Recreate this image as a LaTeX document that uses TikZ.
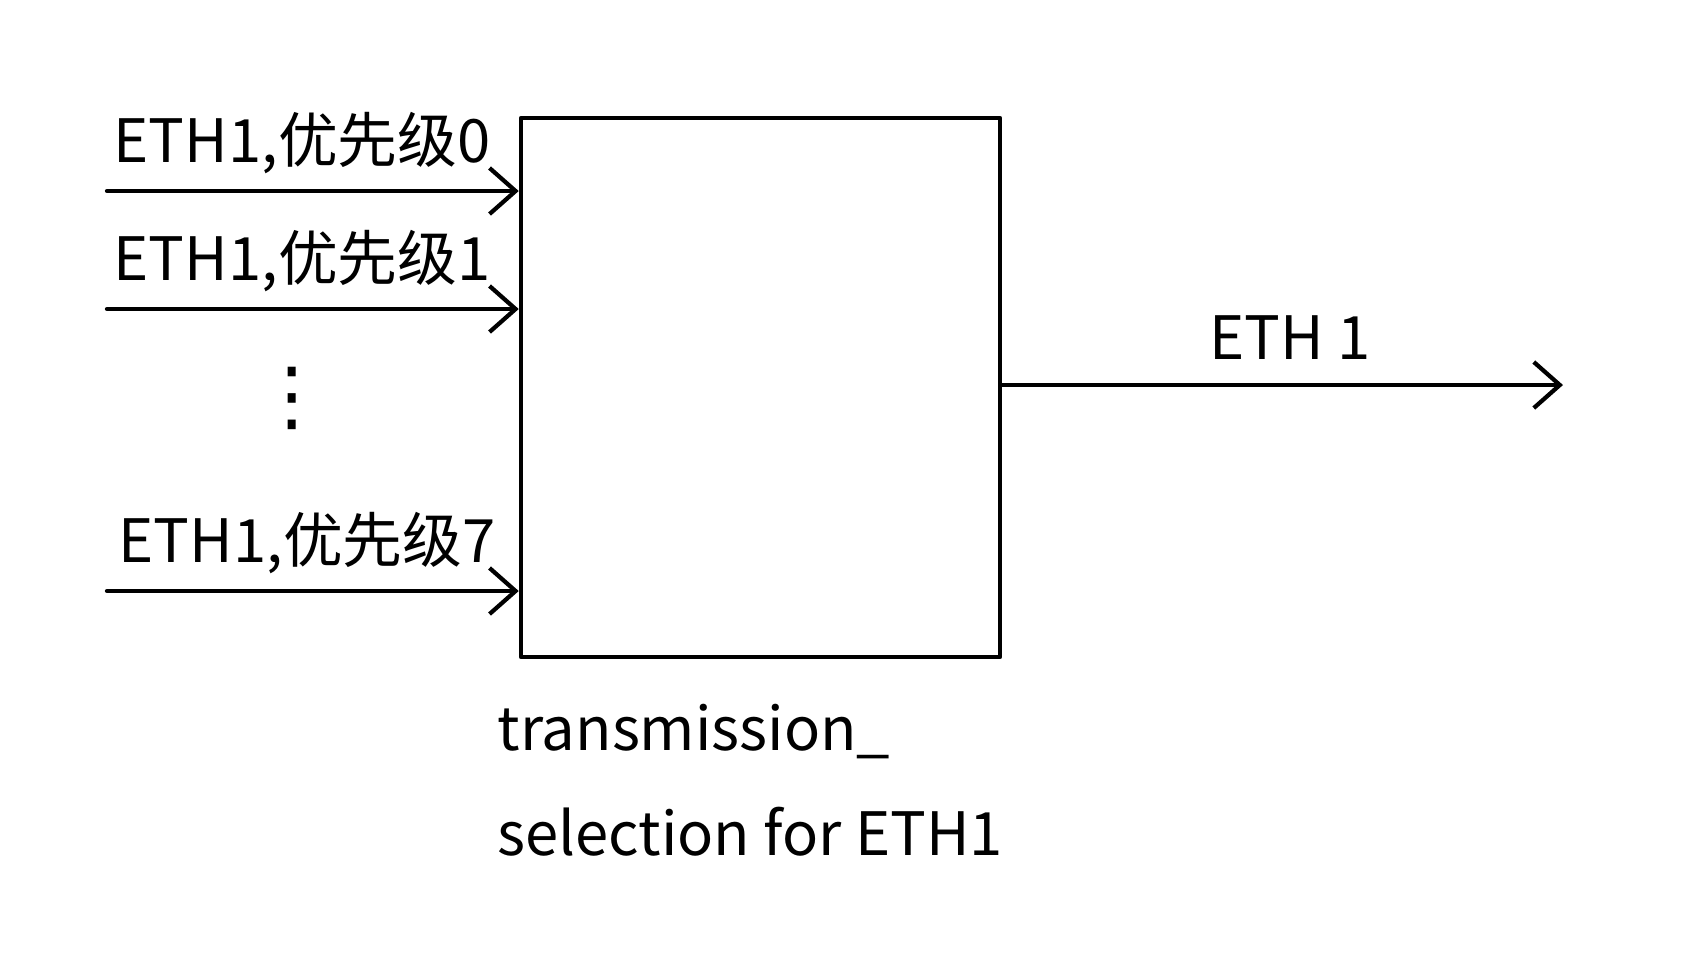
\documentclass[tikz,border=0pt]{standalone}
\usepackage{fontspec}
\setmainfont{Noto Sans CJK SC}
\newfontfamily\symfont{DejaVu Sans}
\usetikzlibrary{arrows.meta}
\usetikzlibrary{positioning}

\begin{document}
\begin{tikzpicture}[
    x=0.01cm, y=-0.01cm,
    line/.style={line width=1.2pt, line cap=round, line join=round},
    arrow/.style={line, -{Straight Barb[length=2.6mm, width=4.6mm, line width=1.2pt]}},
    label/.style={font=\fontsize{17}{20}\selectfont, inner sep=0},
    selector/.style={line, draw, minimum width=4.79cm, minimum height=5.39cm, inner sep=0}
  ]
  \useasboundingbox (0,0) rectangle (1684,959);
  % transmission selection block
  \node[selector] (tsel) at (760.5,387.5) {};
  \node[label, align=left, anchor=north west] (tname) at (497,703)
    {transmission\_\\[10pt]selection for ETH1};

  % inputs, one per priority
  \coordinate (in0) at (107,191);
  \coordinate (in1) at (107,309);
  \coordinate (in7) at (107,591);
  \draw[arrow] (in0) -- (in0 -| tsel.west);
  \draw[arrow] (in1) -- (in1 -| tsel.west);
  \draw[arrow] (in7) -- (in7 -| tsel.west);
  \node[label, anchor=south west] (lab0) at (113,175) {ETH1,优先级0};
  \node[label, anchor=south west] (lab1) at (113,293) {ETH1,优先级1};
  \node[label, anchor=south west] (lab7) at (118,575) {ETH1,优先级7};
  \node[font=\symfont\fontsize{22}{22}\selectfont, inner sep=0] (dots) at (292,398) {⋮};

  % output
  \coordinate (out) at (1563,385);
  \draw[arrow] (tsel.east |- out) -- (out);
  \node[label, anchor=south] (labout) at (1290,360) {ETH 1};
\end{tikzpicture}
\end{document}
